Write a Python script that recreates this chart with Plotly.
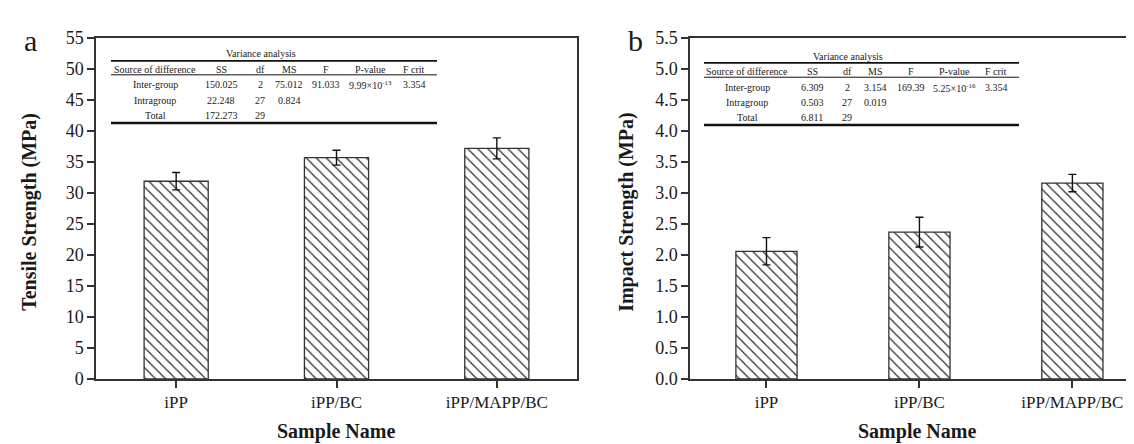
import plotly.graph_objects as go

# ---------------- data ----------------
categories = ["iPP", "iPP/BC", "iPP/MAPP/BC"]
tensile = [31.9, 35.7, 37.2]
tensile_err = [1.4, 1.2, 1.7]
impact = [2.06, 2.37, 3.16]
impact_err = [0.22, 0.24, 0.14]

tensile_ticks = [0, 5, 10, 15, 20, 25, 30, 35, 40, 45, 50, 55]
impact_ticks = [0.0, 0.5, 1.0, 1.5, 2.0, 2.5, 3.0, 3.5, 4.0, 4.5, 5.0, 5.5]

table_title = "Variance analysis"
table_header = ["Source of difference", "SS", "df", "MS", "F", "P-value", "F crit"]
table_a_rows = [
    ["Inter-group", "150.025", "2", "75.012", "91.033", "9.99×10<sup>-13</sup>", "3.354"],
    ["Intragroup", "22.248", "27", "0.824", "", "", ""],
    ["Total", "172.273", "29", "", "", "", ""],
]
table_b_rows = [
    ["Inter-group", "6.309", "2", "3.154", "169.39", "5.25×10<sup>-16</sup>", "3.354"],
    ["Intragroup", "0.503", "27", "0.019", "", "", ""],
    ["Total", "6.811", "29", "", "", "", ""],
]

# ---------------- layout helpers ----------------
W, H = 1134, 444
FONT = "'Liberation Serif', 'Times New Roman', Times, serif"
INK = "#1a1a1a"
LINE = "#333333"


def xp(px):
    return px / W


def yp(py):
    return 1 - py / H


fig = go.Figure()

bar_style = dict(
    color="white",
    line=dict(color=LINE, width=1.3),
    pattern=dict(shape="\\", size=7.1, solidity=0.18, fgcolor="#333333",
                 bgcolor="white", fillmode="replace"),
)

fig.add_trace(go.Bar(
    x=categories, y=tensile, width=0.4, marker=bar_style,
    error_y=dict(type="data", array=tensile_err, color="#111111", thickness=1.4, width=4),
    xaxis="x", yaxis="y", showlegend=False,
))
fig.add_trace(go.Bar(
    x=categories, y=impact, width=0.4, marker=bar_style,
    error_y=dict(type="data", array=impact_err, color="#111111", thickness=1.4, width=4),
    xaxis="x2", yaxis="y2", showlegend=False,
))

axis_common = dict(
    showline=True, linecolor=LINE, linewidth=1.5,
    ticks="outside", ticklen=7, tickwidth=1.5, tickcolor=LINE,
    tickfont=dict(family=FONT, size=17, color=INK),
    showgrid=False, zeroline=False,
)
ytick_font = dict(family=FONT, size=18, color=INK)

y_dom = [yp(378), yp(21)]

fig.update_layout(
    width=W, height=H,
    margin=dict(l=0, r=0, t=0, b=0),
    paper_bgcolor="white", plot_bgcolor="white",
    font=dict(family=FONT, color=INK),
    xaxis=dict(axis_common, domain=[xp(88), xp(569)], type="category",
               range=[-0.5, 2.5], mirror=True, anchor="y"),
    yaxis=dict(axis_common, domain=y_dom, range=[0, 55], tickvals=tensile_ticks,
               mirror=True, anchor="x", tickfont=ytick_font),
    xaxis2=dict(axis_common, domain=[xp(682), 1.0], type="category",
                range=[-0.5, 2.455], mirror=True, anchor="y2"),
    yaxis2=dict(axis_common, domain=y_dom, range=[0, 5.5], tickvals=impact_ticks,
                tickformat=".1f", mirror=False, anchor="x2", tickfont=ytick_font),
)

annotations = []
shapes = []


def txt(x, y, text, size, bold=False, angle=0):
    annotations.append(dict(
        xref="paper", yref="paper", x=xp(x), y=yp(y), text=f"<b>{text}</b>" if bold else text,
        showarrow=False, xanchor="center", yanchor="middle", textangle=angle,
        font=dict(family=FONT, size=size, color=INK),
    ))


def hline(x0, x1, y, w):
    shapes.append(dict(type="line", xref="paper", yref="paper",
                       x0=xp(x0), x1=xp(x1), y0=yp(y), y1=yp(y),
                       line=dict(color="#111111", width=w)))


# panel letters and axis titles
txt(22, 24, "a", 30)
txt(627, 24, "b", 30)
txt(22, 203, "Tensile Strength (MPa)", 20, bold=True, angle=-90)
txt(619, 203, "Impact Strength (MPa)", 20, bold=True, angle=-90)
txt(328, 433, "Sample Name", 20, bold=True)
txt(909, 433, "Sample Name", 20, bold=True)


def draw_table(rows, cols, x0, x1, y_title, y_top, y_head, y_thin, y_rows, y_bot):
    txt((x0 + x1) / 2 - 13, y_title, table_title, 10)
    hline(x0, x1, y_top, 1.8)
    for cx, h in zip(cols, table_header):
        txt(cx, y_head, h, 10)
    hline(x0, x1, y_thin, 1.0)
    for ry, row in zip(y_rows, rows):
        for cx, val in zip(cols, row):
            if val:
                txt(cx, ry, val, 10)
    hline(x0, x1, y_bot, 2.4)


draw_table(table_a_rows, [147, 213, 252, 281, 318, 362, 406], 103, 429,
           37, 45, 53.5, 59.5, [70, 86, 102], 110)
draw_table(table_b_rows, [739, 804, 839, 867, 903, 946, 988], 696, 1011,
           40, 47, 56, 62, [73, 89, 104], 112)

fig.update_layout(annotations=annotations, shapes=shapes)

fig.write_html("out.html")
